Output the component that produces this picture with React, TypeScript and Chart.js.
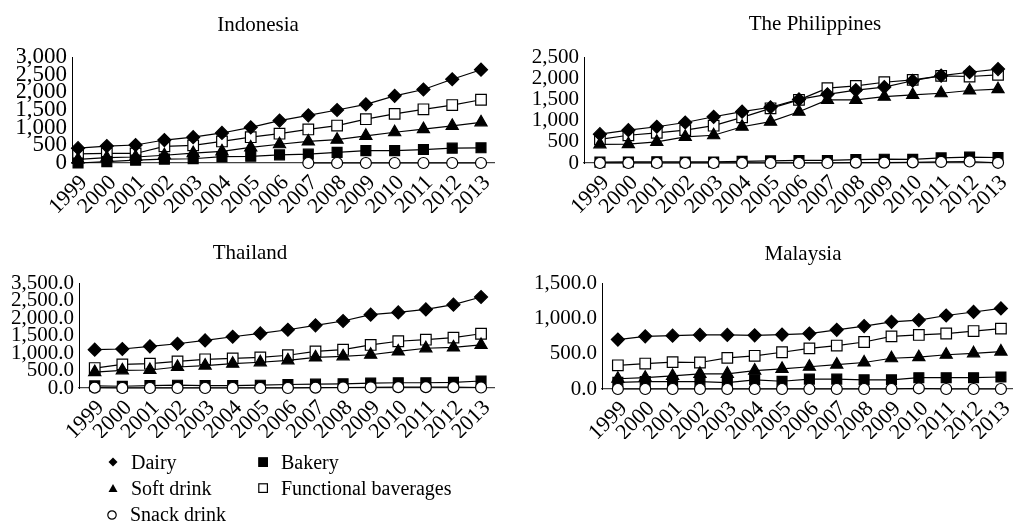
import React, { useEffect, useRef } from "react";
import { Chart, registerables } from "chart.js";

Chart.register(...registerables);

const FONT = "'Liberation Serif', 'Times New Roman', serif";

const years = [1999, 2000, 2001, 2002, 2003, 2004, 2005, 2006, 2007, 2008, 2009, 2010, 2011, 2012, 2013];

const seriesNames = ["Dairy", "Soft drink", "Snack drink", "Bakery", "Functional baverages"];

// Indonesia
const idnDairy = [420, 480, 510, 650, 730, 850, 1010, 1200, 1350, 1500, 1660, 1900, 2080, 2370, 2640];
const idnSoft = [100, 150, 170, 220, 280, 330, 440, 530, 610, 660, 770, 870, 960, 1050, 1150];
const idnSnack = [null, null, null, null, null, null, null, null, 0, 0, 0, 0, 0, 0, 0];
const idnBakery = [0, 40, 80, 110, 120, 180, 190, 230, 250, 300, 350, 350, 380, 420, 430];
const idnFunctional = [260, 270, 270, 470, 500, 610, 730, 830, 950, 1060, 1240, 1390, 1520, 1640, 1790];
const idnTicks = ["0", "500", "1,000", "1,500", "2,000", "2,500", "3,000"];

// The Philippines
const phlDairy = [680, 775, 855, 955, 1090, 1210, 1315, 1500, 1620, 1720, 1790, 1940, 2060, 2140, 2215];
const phlSoft = [440, 445, 500, 615, 655, 855, 975, 1210, 1490, 1490, 1565, 1605, 1645, 1710, 1740];
const phlSnack = [0, 0, 0, 0, 0, 0, 0, 0, 0, 10, 10, 15, 25, 35, 5];
const phlBakery = [20, 25, 30, 25, 25, 40, 50, 60, 60, 80, 90, 85, 120, 140, 130];
const phlFunctional = [555, 655, 710, 775, 880, 1075, 1290, 1490, 1765, 1820, 1905, 1960, 2055, 2040, 2080];
const phlTicks = ["0", "500", "1,000", "1,500", "2,000", "2,500"];

// Thailand
const thaDairy = [1095, 1115, 1190, 1265, 1360, 1465, 1560, 1665, 1790, 1915, 2095, 2160, 2245, 2380, 2600];
const thaSoft = [455, 505, 515, 600, 640, 695, 735, 790, 875, 905, 950, 1045, 1135, 1160, 1230];
const thaSnack = [10, 0, 0, 0, 0, 0, 0, 0, 10, 15, 20, 25, 25, 25, 15];
const thaBakery = [60, 50, 70, 80, 70, 70, 80, 100, 110, 120, 140, 150, 150, 160, 200];
const thaFunctional = [570, 675, 695, 760, 820, 845, 875, 935, 1045, 1095, 1230, 1335, 1380, 1440, 1550];
const thaTicks = ["0.0", "500.0", "1,000.0", "1,500.0", "2,000.0", "2,500.0", "3,500.0"];

// Malaysia
const mysDairy = [700, 745, 755, 765, 765, 760, 770, 785, 838, 890, 950, 975, 1040, 1090, 1140];
const mysSoft = [145, 160, 185, 215, 215, 260, 285, 315, 345, 375, 435, 450, 485, 505, 530];
const mysSnack = [0, 0, 0, 0, 0, 0, 0, 0, 0, 0, 0, 10, 0, 0, 0];
const mysBakery = [95, 105, 105, 105, 90, 130, 110, 140, 140, 130, 130, 160, 160, 160, 170];
const mysFunctional = [335, 360, 380, 375, 440, 470, 520, 575, 615, 665, 745, 765, 785, 820, 855];
const mysTicks = ["0.0", "500.0", "1,000.0", "1,500.0"];

const seriesStyles = [
  { pointStyle: "rectRot", radius: 6.5, fill: "#000" },
  { pointStyle: "triangle", radius: 7, fill: "#000" },
  { pointStyle: "circle", radius: 5.5, fill: "#fff" },
  { pointStyle: "rect", radius: 7, fill: "#000" },
  { pointStyle: "rect", radius: 7.5, fill: "#fff" },
];

type Panel = {
  title: string;
  series: (number | null)[][];
  ticks: string[];
  yMax: number;
  xMin: number;
  xMax: number;
  yTickSize: number;
  xTickSize: number;
  box: { left: number; top: number; width: number; height: number };
  pad: { left: number; right: number; top: number; bottom: number };
  yWidth: number;
  xHeight: number;
  titlePos: { x: number; y: number };
};

const panels: Panel[] = [
  {
    title: "Indonesia",
    series: [idnDairy, idnSoft, idnSnack, idnBakery, idnFunctional],
    ticks: idnTicks,
    yMax: 3000,
    xMin: 1998.79,
    xMax: 2013.48,
    yTickSize: 23,
    xTickSize: 22,
    box: { left: 0, top: 0, width: 507, height: 230 },
    pad: { left: 17, right: 10, top: 57, bottom: 17 },
    yWidth: 55,
    xHeight: 50,
    titlePos: { x: 258, y: 25 },
  },
  {
    title: "The Philippines",
    series: [phlDairy, phlSoft, phlSnack, phlBakery, phlFunctional],
    ticks: phlTicks,
    yMax: 2500,
    xMin: 1998.44,
    xMax: 2013.14,
    yTickSize: 21,
    xTickSize: 22,
    box: { left: 507, top: 0, width: 520, height: 230 },
    pad: { left: 22, right: 25, top: 57, bottom: 17 },
    yWidth: 55,
    xHeight: 50,
    titlePos: { x: 308, y: 24 },
  },
  {
    title: "Thailand",
    series: [thaDairy, thaSoft, thaSnack, thaBakery, thaFunctional],
    ticks: thaTicks,
    yMax: 3000,
    xMin: 1998.43,
    xMax: 2013.47,
    yTickSize: 21,
    xTickSize: 22,
    box: { left: 0, top: 230, width: 507, height: 230 },
    pad: { left: 9, right: 9, top: 53, bottom: 22 },
    yWidth: 70,
    xHeight: 50,
    titlePos: { x: 250, y: 23 },
  },
  {
    title: "Malaysia",
    series: [mysDairy, mysSoft, mysSnack, mysBakery, mysFunctional],
    ticks: mysTicks,
    yMax: 1500,
    xMin: 1998.42,
    xMax: 2013.44,
    yTickSize: 21,
    xTickSize: 22,
    box: { left: 507, top: 230, width: 520, height: 230 },
    pad: { left: 25, right: 14, top: 53, bottom: 21 },
    yWidth: 70,
    xHeight: 50,
    titlePos: { x: 296, y: 24 },
  },
];

const panelTitlePlugin = {
  id: "panelTitle",
  afterDraw(chart: any, _args: any, opts: any) {
    const ctx = chart.ctx;
    ctx.save();
    ctx.font = `21px ${FONT}`;
    ctx.fillStyle = "#000";
    ctx.textAlign = "center";
    ctx.textBaseline = "middle";
    ctx.fillText(opts.text, opts.x, opts.y);
    ctx.restore();
  },
};

function PanelChart({ panel }: { panel: Panel }) {
  const ref = useRef<HTMLCanvasElement | null>(null);
  useEffect(() => {
    if (!ref.current) return;
    const datasets = panel.series.map((vals, i) => {
      const st = seriesStyles[i];
      return {
        label: seriesNames[i],
        data: years.map((yr, k) => ({ x: yr, y: vals[k] })),
        borderColor: "#000",
        borderWidth: 1.2,
        pointStyle: st.pointStyle,
        pointRadius: st.radius,
        pointBackgroundColor: st.fill,
        pointBorderColor: "#000",
        pointBorderWidth: 1.2,
        spanGaps: false,
        clip: false,
        tension: 0,
      };
    });
    const chart = new Chart(ref.current, {
      type: "line",
      data: { datasets } as any,
      plugins: [panelTitlePlugin as any],
      options: {
        animation: false,
        responsive: false,
        devicePixelRatio: 1,
        layout: { padding: panel.pad },
        plugins: {
          legend: { display: false },
          tooltip: { enabled: false },
          title: { display: false },
          panelTitle: { text: panel.title, x: panel.titlePos.x, y: panel.titlePos.y },
        } as any,
        scales: {
          x: {
            type: "linear",
            min: panel.xMin,
            max: panel.xMax,
            grid: { display: false, drawTicks: false },
            border: { display: true, color: "#444", width: 1.3 },
            afterFit: (s: any) => {
              s.height = panel.xHeight;
            },
            ticks: {
              stepSize: 1,
              maxTicksLimit: 30,
              includeBounds: false,
              autoSkip: false,
              minRotation: 45,
              maxRotation: 45,
              padding: 7,
              labelOffset: 6,
              color: "#000",
              font: { family: FONT, size: panel.xTickSize },
              callback: (v: any) => String(v),
            },
          },
          y: {
            type: "linear",
            min: 0,
            max: panel.yMax,
            grid: { display: false, drawTicks: false },
            border: { display: true, color: "#000", width: 1 },
            afterFit: (s: any) => {
              s.width = panel.yWidth;
            },
            ticks: {
              stepSize: 500,
              autoSkip: false,
              padding: 5,
              color: "#000",
              font: { family: FONT, size: panel.yTickSize, lineHeight: 1 },
              callback: (_v: any, idx: number) => panel.ticks[idx],
            },
          },
        },
      } as any,
    });
    return () => chart.destroy();
  }, [panel]);
  return (
    <canvas
      ref={ref}
      width={panel.box.width}
      height={panel.box.height}
      style={{
        position: "absolute",
        left: panel.box.left,
        top: panel.box.top,
        width: panel.box.width,
        height: panel.box.height,
      }}
    />
  );
}

function Marker({ kind }: { kind: number }) {
  const st = seriesStyles[kind];
  let shape: React.ReactNode = null;
  if (st.pointStyle === "rectRot") shape = <polygon points="6,1.5 10.5,6 6,10.5 1.5,6" fill="#000" />;
  else if (st.pointStyle === "triangle") shape = <polygon points="6,2 10.5,10 1.5,10" fill="#000" />;
  else if (st.pointStyle === "circle") shape = <circle cx="6" cy="7" r="4.2" fill="#fff" stroke="#000" strokeWidth="1.2" />;
  else shape = <rect x="1.8" y="1.8" width="8.6" height="8.6" fill={st.fill} stroke="#000" strokeWidth="1.2" />;
  return (
    <svg width="12" height="12" style={{ display: "block" }}>
      {shape}
    </svg>
  );
}

const legendLayout = [
  { idx: 0, x: 107, y: 462 },
  { idx: 3, x: 257, y: 462 },
  { idx: 1, x: 107, y: 488 },
  { idx: 4, x: 257, y: 488 },
  { idx: 2, x: 106, y: 514 },
];

export default function App() {
  return (
    <div
      style={{
        position: "fixed",
        left: 0,
        top: 0,
        width: 1015,
        height: 522,
        overflow: "hidden",
        background: "#fff",
      }}
    >
      {panels.map((p) => (
        <PanelChart key={p.title} panel={p} />
      ))}
      {legendLayout.map((it) => (
        <div
          key={it.idx}
          style={{
            position: "absolute",
            left: it.x,
            top: it.y - 12,
            height: 24,
            display: "flex",
            alignItems: "center",
            fontFamily: FONT,
            fontSize: 20,
            color: "#000",
            whiteSpace: "nowrap",
          }}
        >
          <Marker kind={it.idx} />
          <span style={{ marginLeft: 12 }}>{seriesNames[it.idx]}</span>
        </div>
      ))}
    </div>
  );
}
